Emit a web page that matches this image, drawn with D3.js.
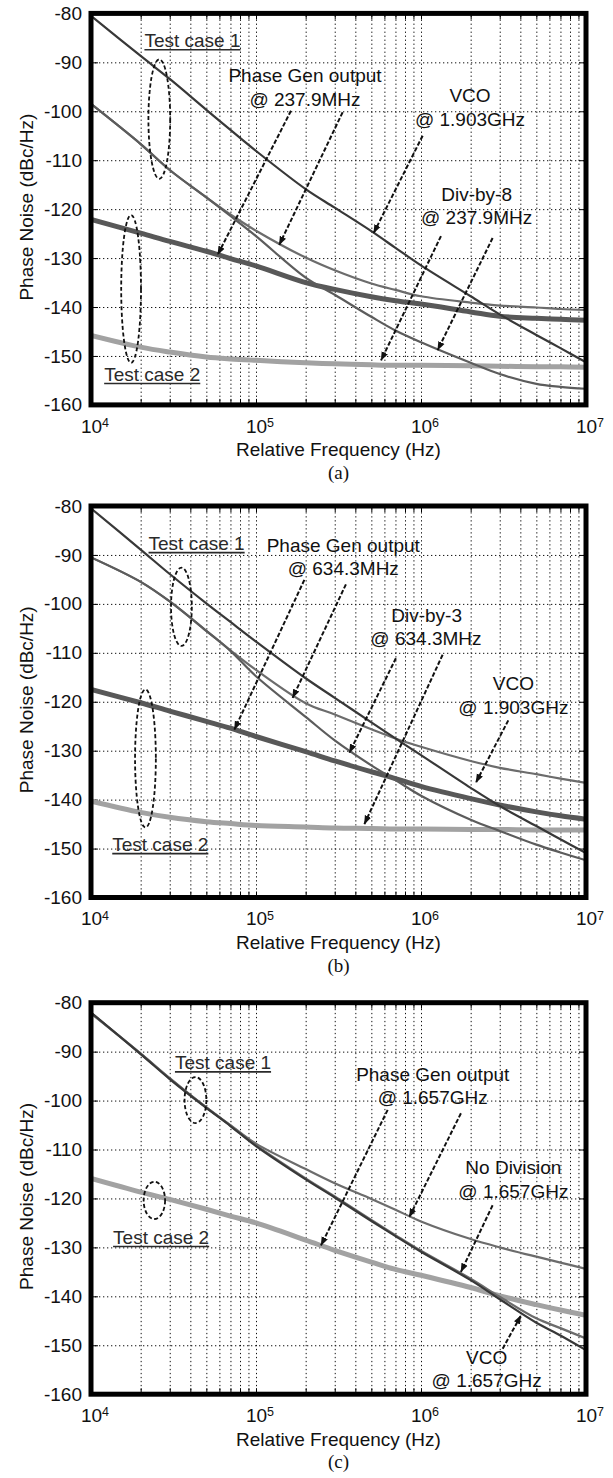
<!DOCTYPE html>
<html>
<head>
<meta charset="utf-8">
<script src="https://cdn.jsdelivr.net/npm/d3@7"></script>
<style>
  html, body { margin: 0; padding: 0; background: #fff; }
  svg { display: block; }
  text { font-family: "Liberation Sans", Arial, Helvetica, sans-serif; fill: #111; }
  text.caption { font-family: "Liberation Serif", "Times New Roman", serif; }
</style>
</head>
<body>
<svg id="fig" width="613" height="1478"></svg>
<script>
// ---------------------------------------------------------------
// Data
// ---------------------------------------------------------------
// Offset frequencies (Hz) at which every phase-noise trace is sampled
const offsetFreqs = [1e4, 2e4, 3e4, 5e4, 7e4, 1e5, 2e5, 3e5, 5e5, 7e5, 1e6, 2e6, 3e6, 5e6, 7e6, 1e7];

// Axis ticks
const dbTicks = [-80, -90, -100, -110, -120, -130, -140, -150, -160];
const decadeTicks = [1e4, 1e5, 1e6, 1e7];
const decadeExponents = ["4", "5", "6", "7"];

// (a) Phase generator at 237.9 MHz, VCO at 1.903 GHz, divide-by-8 (dBc/Hz)
const aVco        = [-80.5, -88.7, -93.4, -99.7, -103.8, -108.1, -115.9, -119.7, -124.5, -127.9, -131.5, -137.8, -141.5, -145.7, -148.4, -151.3];
const aPhaseGen1  = [-98.5, -106.7, -112.0, -117.6, -121.1, -124.4, -129.9, -132.5, -135.2, -136.5, -137.8, -139.1, -139.7, -140.1, -140.4, -140.6];
const aDivBy8One  = [-98.5, -106.7, -112.0, -117.6, -121.4, -125.5, -134.0, -137.5, -142.0, -144.8, -147.2, -151.4, -153.7, -155.7, -156.3, -156.7];
const aPhaseGen2  = [-122.1, -124.9, -126.6, -128.6, -130.1, -131.6, -135.0, -136.4, -137.9, -138.7, -139.4, -141.0, -141.9, -142.3, -142.5, -142.7];
const aDivBy8Two  = [-145.8, -148.2, -149.2, -150.2, -150.6, -150.9, -151.4, -151.6, -151.8, -151.9, -151.9, -152.0, -152.1, -152.2, -152.2, -152.3];

// (b) Phase generator at 634.3 MHz, VCO at 1.903 GHz, divide-by-3
const bVco        = [-80.5, -88.9, -93.9, -99.9, -103.7, -107.7, -115.2, -119.2, -124.2, -127.5, -130.9, -137.6, -141.3, -145.4, -148.1, -150.9];
const bPhaseGen1  = [-90.5, -95.5, -99.5, -105.5, -109.5, -113.5, -120.3, -122.6, -125.6, -127.5, -129.2, -132.1, -133.5, -134.8, -135.7, -136.6];
const bDivBy3One  = [-90.5, -95.5, -99.5, -105.5, -109.6, -114.8, -123.1, -127.9, -133.0, -136.0, -139.2, -144.1, -146.4, -149.2, -150.8, -152.4];
const bPhaseGen2  = [-117.5, -120.2, -121.9, -124.0, -125.4, -127.1, -130.2, -132.1, -134.3, -135.7, -137.3, -139.8, -141.1, -142.5, -143.3, -144.0];
const bDivBy3Two  = [-140.3, -142.6, -143.6, -144.5, -144.9, -145.3, -145.6, -145.8, -145.9, -146.0, -146.0, -146.1, -146.1, -146.2, -146.2, -146.2];

// (c) Phase generator at 1.657 GHz, VCO at 1.657 GHz, no division
const cPhaseGen1  = [-82.2, -90.4, -95.4, -101.4, -105.0, -108.8, -114.0, -116.9, -120.1, -122.3, -124.7, -128.3, -130.0, -131.9, -133.1, -134.4];
const cVco        = [-82.0, -90.5, -95.6, -101.5, -105.2, -109.3, -116.1, -119.8, -124.6, -127.7, -130.9, -136.7, -140.6, -145.4, -148.0, -151.0];
const cNoDivision = [-82.1, -90.4, -95.5, -101.4, -105.1, -109.1, -115.9, -119.6, -124.4, -127.5, -130.7, -136.4, -140.1, -144.5, -146.5, -148.6];
const cPhaseGen2  = [-115.9, -118.7, -120.2, -122.2, -123.6, -125.0, -128.5, -130.6, -133.0, -134.5, -135.7, -138.2, -139.9, -141.7, -142.8, -143.9];

// Annotations, anchored in data space: [text, log10(freq), dBc/Hz]
const aNotes = [
  ["Phase Gen output", 5.297, -94.1], ["@ 237.9MHz", 5.297, -98.9],
  ["VCO", 6.297, -98.2], ["@ 1.903GHz", 6.297, -102.97],
  ["Div-by-8", 6.337, -118.3], ["@ 237.9MHz", 6.337, -123.07]
];
const bNotes = [
  ["Phase Gen output", 5.529, -89.3], ["@ 634.3MHz", 5.529, -94.1],
  ["Div-by-3", 6.034, -103.7], ["@ 634.3MHz", 6.03, -108.5],
  ["VCO", 6.56, -117.7], ["@ 1.903GHz", 6.56, -122.5]
];
const cNotes = [
  ["Phase Gen output", 6.071, -96.0], ["@ 1.657GHz", 6.071, -100.8],
  ["No Division", 6.56, -115.1], ["@ 1.657GHz", 6.56, -119.9],
  ["VCO", 6.398, -153.8], ["@ 1.657GHz", 6.398, -158.6]
];

// Underlined case headings: [text, log10(freq) of centre, dBc/Hz of baseline]
const aCases = [["Test case 1", 4.615, -86.9], ["Test case 2", 4.371, -155.1]];
const bCases = [["Test case 1", 4.640, -89.0], ["Test case 2", 4.420, -150.5]];
const cCases = [["Test case 1", 4.800, -93.6], ["Test case 2", 4.425, -129.3]];

// Dashed grouping ellipses: [log10(centre freq), centre dB, half-width (decades), half-height (dB)]
const aRings = [[4.414, -101.6, 0.066, 12.2], [4.243, -136.3, 0.06, 15.1]];
const bRings = [[4.548, -100.6, 0.063, 8.0], [4.330, -131.6, 0.063, 14.1]];
const cRings = [[4.633, -99.9, 0.066, 4.7], [4.384, -120.4, 0.065, 3.8]];

// Dashed pointer arrows: [tail log10 f, tail dB, tip log10 f, tip dB]
const aArrows = [
  [5.212, -99.9, 4.768, -129.3], [5.525, -100.2, 5.141, -127.3],
  [6.010, -105.0, 5.713, -124.9],
  [6.121, -125.5, 5.758, -150.9], [6.434, -125.9, 6.101, -148.8]
];
const bArrows = [
  [5.293, -95.1, 4.869, -125.7], [5.545, -96.0, 5.222, -119.2],
  [5.848, -111.1, 5.566, -130.4], [6.131, -110.4, 5.657, -145.0],
  [6.529, -123.8, 6.333, -136.5]
];
const cArrows = [
  [5.798, -101.9, 5.394, -129.6], [6.242, -102.6, 5.929, -123.8],
  [6.434, -121.4, 6.242, -135.0], [6.495, -150.7, 6.606, -143.9]
];

// ---------------------------------------------------------------
// Layout and styles
// ---------------------------------------------------------------
const plotLeft = 91, plotRight = 586, plotH = 391.5;
const panelTops = [13.4, 506, 1002.7];
const fontSize = 19;

const traceStyles = {
  thickDark:  { stroke: "#585858", width: 5 },
  thickLight: { stroke: "#a2a2a2", width: 5 },
  medium:     { stroke: "#6c6c6c", width: 2.2 },
  mediumDark: { stroke: "#5c5c5c", width: 2.2 },
  dark:       { stroke: "#383838", width: 2.2 }
};

const panels = [
  {
    key: "a", caption: "(a)",
    traces: [
      [aPhaseGen2, "thickDark"], [aDivBy8Two, "thickLight"],
      [aPhaseGen1, "medium"], [aDivBy8One, "mediumDark"], [aVco, "dark"]
    ],
    notes: aNotes, cases: aCases, rings: aRings, arrows: aArrows
  },
  {
    key: "b", caption: "(b)",
    traces: [
      [bPhaseGen2, "thickDark"], [bDivBy3Two, "thickLight"],
      [bPhaseGen1, "medium"], [bDivBy3One, "mediumDark"], [bVco, "dark"]
    ],
    notes: bNotes, cases: bCases, rings: bRings, arrows: bArrows
  },
  {
    key: "c", caption: "(c)",
    traces: [
      [cPhaseGen2, "thickLight"],
      [cPhaseGen1, "medium"], [cNoDivision, "medium"], [cVco, "dark"]
    ],
    notes: cNotes, cases: cCases, rings: cRings, arrows: cArrows
  }
];

// ---------------------------------------------------------------
// Drawing
// ---------------------------------------------------------------
const svg = d3.select("#fig");
const defs = svg.append("defs");

defs.append("marker")
  .attr("id", "arrowHead")
  .attr("viewBox", "0 -4 9 8")
  .attr("refX", 8.5).attr("refY", 0)
  .attr("markerUnits", "userSpaceOnUse")
  .attr("markerWidth", 9).attr("markerHeight", 8)
  .attr("orient", "auto")
  .append("path")
  .attr("d", "M0,-3.4L9,0L0,3.4Z")
  .attr("fill", "#111")
  .attr("stroke", "none");

const pow10 = v => Math.pow(10, v);

panels.forEach((p, i) => {
  const top = panelTops[i];
  const bottom = top + plotH;
  const x = d3.scaleLog().domain([1e4, 1e7]).range([plotLeft, plotRight]);
  const y = d3.scaleLinear().domain([-160, -80]).range([bottom, top]);
  const g = svg.append("g").attr("class", "panel-" + p.key);

  const clipId = "plot-clip-" + p.key;
  defs.append("clipPath").attr("id", clipId)
    .append("rect")
    .attr("x", plotLeft).attr("y", top)
    .attr("width", plotRight - plotLeft).attr("height", plotH);

  // Dotted grid
  const logTicks = x.ticks();
  const innerX = logTicks.filter(t => t > 1e4 && t < 1e7);
  g.append("g")
    .attr("transform", `translate(0,${bottom})`)
    .call(d3.axisBottom(x).tickValues(innerX).tickSize(-plotH).tickFormat(""))
    .call(s => s.select(".domain").remove())
    .selectAll("line")
    .attr("stroke", "#111").attr("stroke-width", 1).attr("stroke-dasharray", "1.3,2.7");

  g.append("g")
    .attr("transform", `translate(${plotLeft},0)`)
    .call(d3.axisLeft(y).tickValues(dbTicks.filter(t => t > -160 && t < -80))
      .tickSize(-(plotRight - plotLeft)).tickFormat(""))
    .call(s => s.select(".domain").remove())
    .selectAll("line")
    .attr("stroke", "#111").attr("stroke-width", 1).attr("stroke-dasharray", "1.3,2.7");

  // Inward tick marks on all four sides
  const tickStyle = s => {
    s.select(".domain").remove();
    s.selectAll("line").attr("stroke", "#000").attr("stroke-width", 1);
  };
  g.append("g").attr("transform", `translate(0,${bottom})`)
    .call(d3.axisBottom(x).tickValues(logTicks).tickSize(-6).tickFormat("")).call(tickStyle);
  g.append("g").attr("transform", `translate(0,${top})`)
    .call(d3.axisTop(x).tickValues(logTicks).tickSize(-6).tickFormat("")).call(tickStyle);
  g.append("g").attr("transform", `translate(${plotLeft},0)`)
    .call(d3.axisLeft(y).tickValues(dbTicks).tickSize(-7).tickFormat("")).call(tickStyle);
  g.append("g").attr("transform", `translate(${plotRight},0)`)
    .call(d3.axisRight(y).tickValues(dbTicks).tickSize(-7).tickFormat("")).call(tickStyle);

  // Phase-noise traces
  const line = d3.line()
    .x(d => x(d[0]))
    .y(d => y(d[1]))
    .curve(d3.curveCatmullRom.alpha(0.5));

  const traceLayer = g.append("g").attr("clip-path", `url(#${clipId})`);
  p.traces.forEach(([values, styleKey]) => {
    const st = traceStyles[styleKey];
    traceLayer.append("path")
      .datum(offsetFreqs.map((f, k) => [f, values[k]]))
      .attr("d", line)
      .attr("fill", "none")
      .attr("stroke", st.stroke)
      .attr("stroke-width", st.width)
      .attr("stroke-linejoin", "round")
      .attr("stroke-linecap", "butt");
  });

  // Dashed ellipses grouping each test case
  g.append("g").selectAll("ellipse")
    .data(p.rings)
    .join("ellipse")
    .attr("cx", d => x(pow10(d[0])))
    .attr("cy", d => y(d[1]))
    .attr("rx", d => x(pow10(d[0] + d[2])) - x(pow10(d[0])))
    .attr("ry", d => y(d[1] - d[3]) - y(d[1]))
    .attr("fill", "none")
    .attr("stroke", "#111")
    .attr("stroke-width", 1.8)
    .attr("stroke-dasharray", "4,2.5");

  // Dashed pointer arrows
  g.append("g").selectAll("line")
    .data(p.arrows)
    .join("line")
    .attr("x1", d => x(pow10(d[0]))).attr("y1", d => y(d[1]))
    .attr("x2", d => x(pow10(d[2]))).attr("y2", d => y(d[3]))
    .attr("stroke", "#111")
    .attr("stroke-width", 2)
    .attr("stroke-dasharray", "4.5,2")
    .attr("marker-end", "url(#arrowHead)");

  // Annotation text
  g.append("g").selectAll("text")
    .data(p.notes)
    .join("text")
    .attr("x", d => x(pow10(d[1])))
    .attr("y", d => y(d[2]))
    .attr("text-anchor", "middle")
    .attr("font-size", fontSize)
    .text(d => d[0]);

  // Underlined case headings
  const cases = g.append("g").selectAll("g")
    .data(p.cases)
    .join("g");
  cases.append("text")
    .attr("x", d => x(pow10(d[1])))
    .attr("y", d => y(d[2]))
    .attr("text-anchor", "middle")
    .attr("font-size", fontSize)
    .style("fill", "#2a2a2a")
    .text(d => d[0]);
  cases.each(function (d) {
    const t = d3.select(this).select("text");
    const len = t.node().getComputedTextLength();
    const cx = x(pow10(d[1]));
    const by = y(d[2]) + 2.6;
    d3.select(this).append("line")
      .attr("x1", cx - len / 2).attr("x2", cx + len / 2)
      .attr("y1", by).attr("y2", by)
      .attr("stroke", "#2a2a2a").attr("stroke-width", 1.6);
  });

  // Plot frame
  g.append("rect")
    .attr("x", plotLeft).attr("y", top)
    .attr("width", plotRight - plotLeft).attr("height", plotH)
    .attr("fill", "none")
    .attr("stroke", "#000")
    .attr("stroke-width", 5);

  // Y tick labels
  g.append("g")
    .attr("transform", `translate(${plotLeft},0)`)
    .call(d3.axisLeft(y).tickValues(dbTicks).tickSize(0).tickPadding(9).tickFormat(d => String(d)))
    .call(s => s.select(".domain").remove())
    .attr("font-size", fontSize)
    .attr("font-family", null);

  // X tick labels as powers of ten
  const xLabels = g.append("g")
    .attr("transform", `translate(0,${bottom})`)
    .call(d3.axisBottom(x).tickValues(decadeTicks).tickSize(0).tickPadding(14.3)
      .tickFormat((d, k) => decadeExponents[k]))
    .call(s => s.select(".domain").remove())
    .attr("font-size", fontSize)
    .attr("font-family", null);
  xLabels.selectAll(".tick text").each(function () {
    const t = d3.select(this);
    const exp = t.text();
    t.text(null).attr("text-anchor", "start").attr("x", -10.6);
    t.append("tspan").text("10");
    t.append("tspan").attr("font-size", 12.5).attr("dy", "-0.45em").text(exp);
  });

  // Axis titles
  g.append("text")
    .attr("x", (plotLeft + plotRight) / 2)
    .attr("y", bottom + 51.5)
    .attr("text-anchor", "middle")
    .attr("font-size", fontSize)
    .text("Relative Frequency (Hz)");

  g.append("text")
    .attr("transform", `translate(32.5,${top + plotH / 2 - 2}) rotate(-90)`)
    .attr("text-anchor", "middle")
    .attr("font-size", fontSize)
    .text("Phase Noise (dBc/Hz)");

  g.append("text")
    .attr("class", "caption")
    .attr("x", (plotLeft + plotRight) / 2)
    .attr("y", bottom + 74)
    .attr("text-anchor", "middle")
    .attr("font-size", 19)
    .text(p.caption);
});
</script>
</body>
</html>
